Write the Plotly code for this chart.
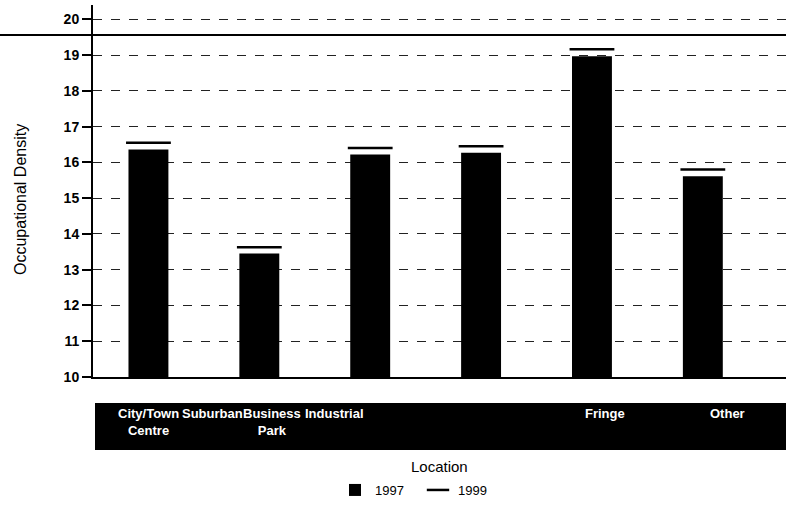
import plotly.graph_objects as go

categories = ["City/Town Centre", "Suburban", "Business Park", "Industrial", "Fringe", "Other"]
cat_labels = ["City/Town<br>Centre", "Suburban", "Business<br>Park", "Industrial", "Fringe", "Other"]
label_px = [148, 212, 272, 334, 605, 727]
values_1997 = [16.36, 13.45, 16.22, 16.27, 18.97, 15.61]
values_1999 = [16.55, 13.63, 16.40, 16.45, 19.16, 15.80]
y_ticks = [10, 11, 12, 13, 14, 15, 16, 17, 18, 19, 20]

W, H = 786, 508
L, R, T, B = 93, 0, 5, 131
pw, ph = W - L - R, H - T - B

FONT = "Liberation Sans, Arial, sans-serif"

fig = go.Figure()
fig.add_trace(go.Bar(
    x=categories, y=values_1997, name="1997",
    marker=dict(color="black", line=dict(width=0)),
    width=0.36,
))
fig.add_trace(go.Scatter(
    x=categories, y=values_1999, name="1999", mode="markers",
    marker=dict(symbol="line-ew", size=32, color="black",
                line=dict(width=2.5, color="black")),
))

def px_x(p):
    return (p - L) / pw

def px_y(p):
    return (H - B - p) / ph

shapes = [
    dict(type="rect", xref="paper", yref="paper",
         x0=px_x(95), x1=px_x(786), y0=px_y(450), y1=px_y(403),
         fillcolor="black", line=dict(width=0), layer="below"),
    dict(type="line", xref="paper", yref="paper",
         x0=px_x(0), x1=px_x(786), y0=px_y(35), y1=px_y(35),
         line=dict(color="black", width=2)),
]

annotations = []
for lab, p in zip(cat_labels, label_px):
    annotations.append(dict(
        text="<b>" + lab + "</b>", xref="paper", yref="paper",
        x=px_x(p), y=px_y(404), xanchor="center", yanchor="top",
        showarrow=False, align="center",
        font=dict(family=FONT, size=13, color="white"),
    ))
annotations.append(dict(
    text="Location", xref="paper", yref="paper",
    x=px_x(440), y=px_y(466), xanchor="center", yanchor="middle",
    showarrow=False, font=dict(family=FONT, size=15, color="black"),
))
annotations.append(dict(
    text="Occupational Density", xref="paper", yref="paper",
    x=px_x(20), y=px_y(200), xanchor="center", yanchor="middle",
    textangle=-90, showarrow=False,
    font=dict(family=FONT, size=16, color="black"),
))

fig.update_layout(
    width=W, height=H,
    margin=dict(l=L, r=R, t=T, b=B, autoexpand=False),
    paper_bgcolor="white", plot_bgcolor="white",
    font=dict(family=FONT, color="black"),
    showlegend=True,
    legend=dict(orientation="h", x=px_x(418), y=px_y(490),
                xanchor="center", yanchor="middle",
                font=dict(family=FONT, size=13, color="black"),
                entrywidth=38, entrywidthmode="pixels", itemwidth=30),
    bargap=0.64,
    shapes=shapes,
    annotations=annotations,
    xaxis=dict(
        range=[-0.5, 5.75], showticklabels=False, ticks="",
        showline=True, linecolor="black", linewidth=2,
        showgrid=False, zeroline=False, automargin=False,
    ),
    yaxis=dict(
        range=[10, 20.4], tickvals=y_ticks,
        ticktext=["<b>%d</b>" % v for v in y_ticks],
        tickfont=dict(family=FONT, size=14, color="black"),
        ticks="outside", ticklen=9, tickwidth=2, tickcolor="black",
        showline=True, linecolor="black", linewidth=2,
        showgrid=True, gridcolor="#222222", gridwidth=1, griddash="dash",
        zeroline=False, automargin=False,
    ),
)

fig.write_html("out.html", config={"displayModeBar": False},
               post_script="document.body.style.margin='0px';")
